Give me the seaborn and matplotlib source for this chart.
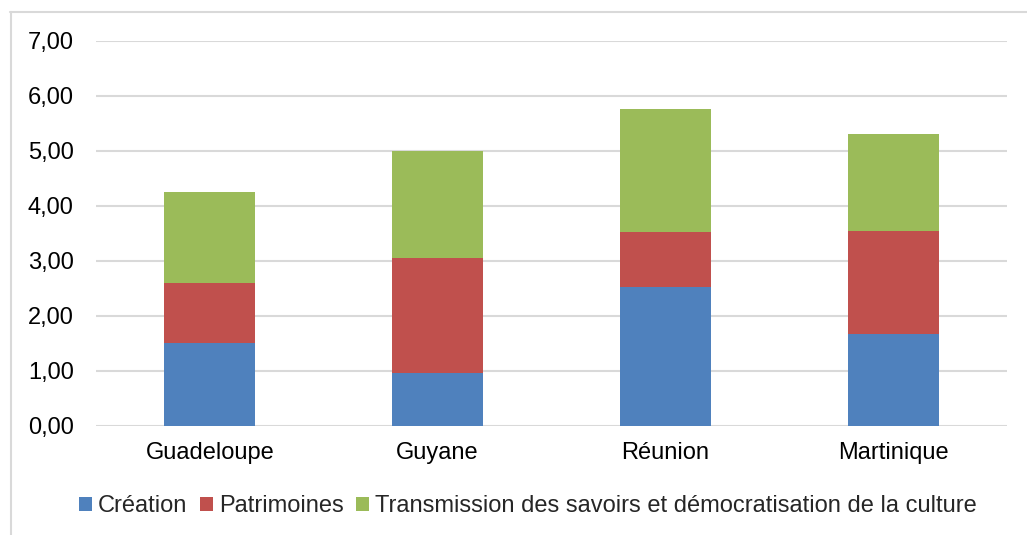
import numpy as np
import pandas as pd
import matplotlib
matplotlib.use("Agg")
import matplotlib.pyplot as plt
import seaborn as sns
from matplotlib.patches import Patch
from matplotlib.lines import Line2D
from matplotlib.ticker import FuncFormatter

regions = ["Guadeloupe", "Guyane", "Réunion", "Martinique"]
creation = [1.50, 0.95, 2.52, 1.67]
patrimoines = [1.09, 2.10, 1.00, 1.88]
transmission = [1.66, 1.95, 2.25, 1.75]
series_names = ["Création", "Patrimoines",
                "Transmission des savoirs et démocratisation de la culture"]
colors = ["#4F81BD", "#C0504D", "#9BBB59"]

sns.set_style("white")
plt.rcParams['font.family'] = ['Liberation Sans', 'DejaVu Sans']

df = pd.DataFrame({"region": regions, "c": creation, "p": patrimoines, "t": transmission})
# stacked bars: draw cumulative totals, tallest first
df["cp"] = df["c"] + df["p"]
df["cpt"] = df["cp"] + df["t"]

fig = plt.figure(figsize=(10.27, 5.35), dpi=100)
ax = fig.add_axes([0.0935, 0.2043, 0.887, 0.7191])

for col, color in zip(["cpt", "cp", "c"], colors[::-1]):
    sns.barplot(data=df, x="region", y=col, color=color, width=0.4,
                saturation=1, linewidth=0, ax=ax, zorder=3)

ax.set_ylim(0, 7)
ax.set_yticks(np.arange(0, 8, 1))
ax.yaxis.set_major_formatter(FuncFormatter(lambda v, p: f"{v:.2f}".replace(".", ",")))
ax.grid(axis="y", color="#D9D9D9", linewidth=1.5, zorder=0)
ax.set_axisbelow(True)
for s in ax.spines.values():
    s.set_visible(False)
ax.set_xlabel("")
ax.set_ylabel("")
ax.tick_params(axis="both", length=0, labelsize=17, colors="black")
ax.tick_params(axis="y", pad=16)
ax.tick_params(axis="x", pad=12)

handles = [Patch(facecolor=c, edgecolor="none") for c in colors]
fig.legend(handles, series_names, loc="center", bbox_to_anchor=(0.514, 0.054),
           ncol=3, frameon=False, fontsize=17, handlelength=0.55, handleheight=0.55,
           handletextpad=0.25, columnspacing=0.55, borderaxespad=0)

# outer chart border (top and left only visible)
fig.add_artist(Line2D([10 / 1027, 1], [1 - 11.5 / 535] * 2, transform=fig.transFigure,
                      color="#D9D9D9", linewidth=1.5))
fig.add_artist(Line2D([10.5 / 1027] * 2, [0, 1 - 11.5 / 535], transform=fig.transFigure,
                      color="#D9D9D9", linewidth=1.5))

fig.savefig("out.png", dpi=100)
